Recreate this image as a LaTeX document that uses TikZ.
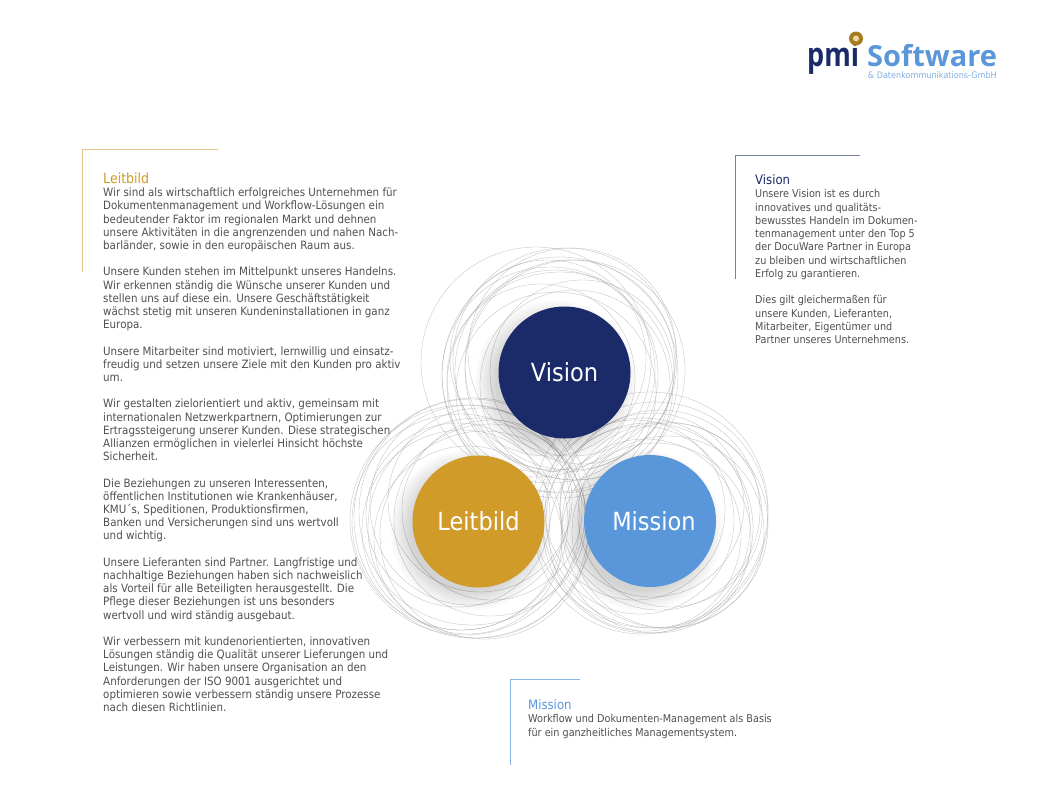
\documentclass[tikz,border=0pt]{standalone}
\usepackage{fontspec}
\setmainfont[FakeStretch=0.9]{DejaVu Sans}
\newfontfamily\logofont{Open Sans}
\definecolor{navy}{HTML}{1B2B69}
\definecolor{gold}{HTML}{D09B28}
\definecolor{sky}{HTML}{5A96DA}
\definecolor{body}{HTML}{505050}
\tikzset{
  ring/.style={draw=black!40,line width=0.3pt,opacity=0.65},
  disc/.style={circle,minimum size=132pt,inner sep=0pt,text=white,font=\fontsize{25}{30}\selectfont},
  copytext/.style={anchor=north west,inner sep=0pt,align=left,text=body},
  titletext/.style={anchor=base west,inner sep=0pt,font=\fontsize{13}{15}\selectfont},
  cornerline/.style={line width=0.6pt},
}
\begin{document}
\begin{tikzpicture}[x=1pt,y=-1pt]
\useasboundingbox (0,0) rectangle (1038,806);
\fill[white] (0,0) rectangle (1038,806);
% rings
\foreach \x/\y/\r in {536/362/115,575/370/110,560/385/113,555/370/100,570/365/105,550/375/108,575/385/95,565/360/112,560/375/118,548/358/98,582/372/92,556/392/100,572/352/104,541/378/94}
  \draw[ring] (\x,\y) circle (\r);
\foreach \x/\y/\r in {465/520/115,472/512/113,478/528/110,462/530/100,490/520/96,470/505/100,484/535/104,458/515/92,492/510/90,468/540/94,480/500/92,474/518/120,460/522/108}
  \draw[ring] (\x,\y) circle (\r);
\foreach \x/\y/\r in {655/515/113,660/510/100,648/528/105,665/525/103,640/520/94,652/505/92,670/515/92,645/535/96,635/510/90,650/510/118,642/526/108,668/532/96,656/538/95}
  \draw[ring] (\x,\y) circle (\r);
% shadows
\foreach \i in {0,...,21}{
  \fill[black,opacity=0.008] (556,381) circle ({60+1*\i});
  \fill[black,opacity=0.008] (471,530) circle ({60+1*\i});
  \fill[black,opacity=0.008] (642,530) circle ({60+1*\i});
}
% discs
\node[disc,fill=navy] (vision) at (564.5,372.5) {Vision};
\node[disc,fill=gold] (leitbild) at (478.5,521.5) {Leitbild};
\node[disc,fill=sky] (mission) at (650,521) {\hspace*{8pt}Mission};
% corner rules
\coordinate (la) at (218,149);\coordinate (lb) at (82,149);\coordinate (lc) at (82,272);
\coordinate (va) at (860,155);\coordinate (vb) at (735,155);\coordinate (vc) at (735,279);
\coordinate (ma) at (580,679);\coordinate (mb) at (510,679);\coordinate (mc) at (510,765);
\draw[cornerline,color=gold!55] (la)--(lb)--(lc);
\draw[cornerline,color=navy!60] (va)--(vb)--(vc);
\draw[cornerline,color=sky!70] (ma)--(mb)--(mc);
% texts
\node[titletext,text=gold,font=\fontsize{14}{15}\selectfont] (t1) at (103,183.5) {Leitbild};
\node[copytext,font=\fontsize{11.45}{13.2}\selectfont] (c1) at (103,187.8) {Wir sind als wirtschaftlich erfolgreiches Unternehmen für\\
Dokumentenmanagement und Workflow-Lösungen ein\\
bedeutender Faktor im regionalen Markt und dehnen\\
unsere Aktivitäten in die angrenzenden und nahen Nach-\\
barländer, sowie in den europäischen Raum aus.\\[13.2pt]
Unsere Kunden stehen im Mittelpunkt unseres Handelns.\\
Wir erkennen ständig die Wünsche unserer Kunden und\\
stellen uns auf diese ein. Unsere Geschäftstätigkeit\\
wächst stetig mit unseren Kundeninstallationen in ganz\\
Europa.\\[13.2pt]
Unsere Mitarbeiter sind motiviert, lernwillig und einsatz-\\
freudig und setzen unsere Ziele mit den Kunden pro aktiv\\
um.\\[13.2pt]
Wir gestalten zielorientiert und aktiv, gemeinsam mit\\
internationalen Netzwerkpartnern, Optimierungen zur\\
Ertragssteigerung unserer Kunden. Diese strategischen\\
Allianzen ermöglichen in vielerlei Hinsicht höchste\\
Sicherheit.\\[13.2pt]
Die Beziehungen zu unseren Interessenten,\\
öffentlichen Institutionen wie Krankenhäuser,\\
KMU´s, Speditionen, Produktionsfirmen,\\
Banken und Versicherungen sind uns wertvoll\\
und wichtig.\\[13.2pt]
Unsere Lieferanten sind Partner. Langfristige und\\
nachhaltige Beziehungen haben sich nachweislich\\
als Vorteil für alle Beteiligten herausgestellt. Die\\
Pflege dieser Beziehungen ist uns besonders\\
wertvoll und wird ständig ausgebaut.\\[13.2pt]
Wir verbessern mit kundenorientierten, innovativen\\
Lösungen ständig die Qualität unserer Lieferungen und\\
Leistungen. Wir haben unsere Organisation an den\\
Anforderungen der ISO 9001 ausgerichtet und\\
optimieren sowie verbessern ständig unsere Prozesse\\
nach diesen Richtlinien.};
\node[titletext,text=navy] (t2) at (755,184.5) {Vision};
\node[copytext,font=\fontsize{10.75}{13.25}\selectfont] (c2) at (755,189.5) {Unsere Vision ist es durch\\
innovatives und qualitäts-\\
bewusstes Handeln im Dokumen-\\
tenmanagement unter den Top 5\\
der DocuWare Partner in Europa\\
zu bleiben und wirtschaftlichen\\
Erfolg zu garantieren.\\[13.25pt]
Dies gilt gleichermaßen für\\
unsere Kunden, Lieferanten,\\
Mitarbeiter, Eigentümer und\\
Partner unseres Unternehmens.};
\node[titletext,text=sky] (t3) at (528,709.5) {Mission};
\node[copytext,font=\fontsize{10.75}{13.2}\selectfont] (c3) at (528,714.5) {Workflow und Dokumenten-Management als Basis\\
für ein ganzheitliches Managementsystem.};
% logo
\node[anchor=base west,inner sep=0pt,text=navy,xscale=0.82,font=\logofont\bfseries\fontsize{33}{36}\selectfont] (pmi) at (807,66) {pmi};
\node[anchor=base west,inner sep=0pt,text=sky,font=\logofont\bfseries\fontsize{29}{32}\selectfont] (soft) at (867,66) {Software};
\node[anchor=base east,inner sep=0pt,text=sky!75,font=\fontsize{9}{9}\selectfont] (gmbh) at (997,78.5) {\& Datenkommunikations-GmbH};
\node[circle,fill=gold!80!black,minimum size=14pt,inner sep=0pt] (dot) at (856,38.5) {};
\node[circle,fill=gold!40,minimum size=6pt,inner sep=0pt] (dotin) at (dot) {};
\end{tikzpicture}
\end{document}
